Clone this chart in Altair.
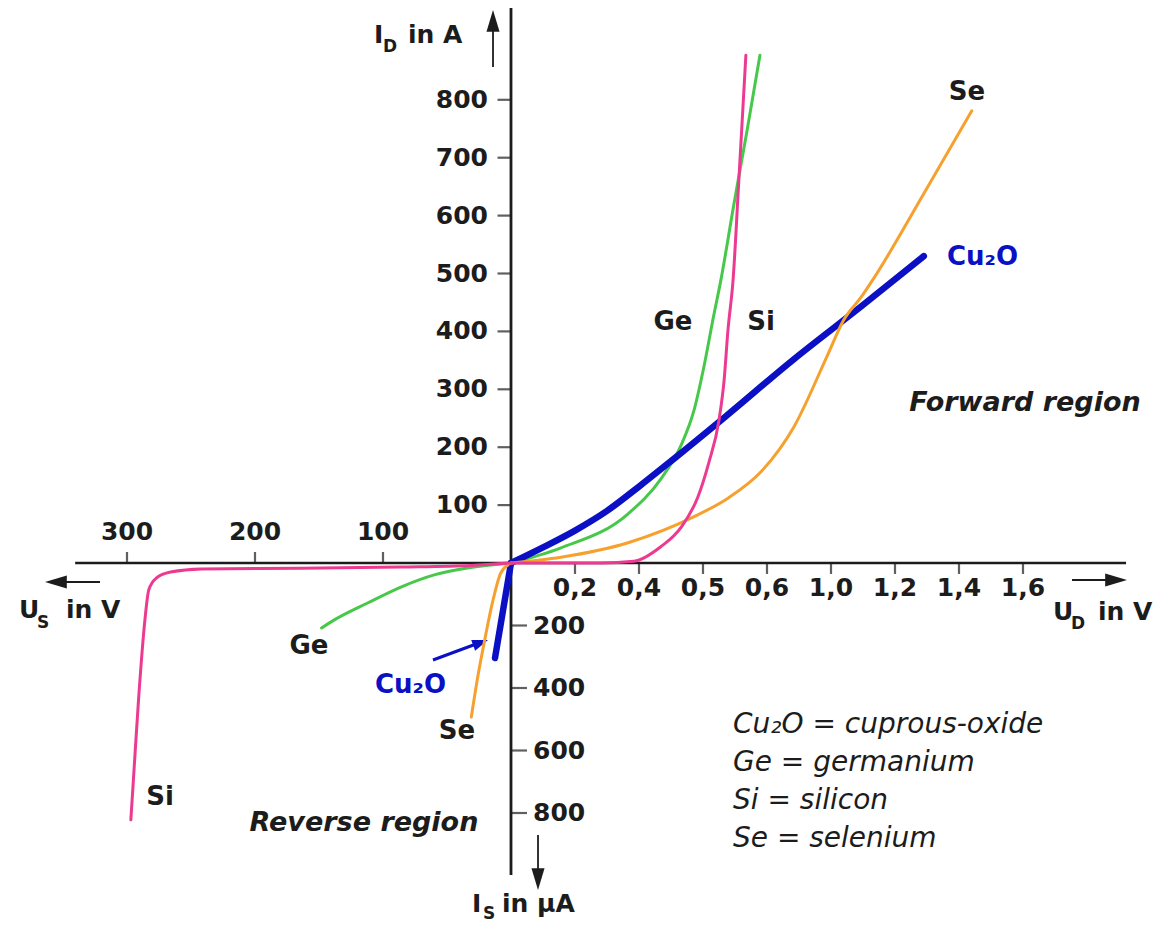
import altair as alt
import pandas as pd

# ---------------- values ----------------
# Forward region: x in scale divisions (division k carries label FWD_LABELS[k-1]), I_D in A
FWD_TICKS = [1, 2, 3, 4, 5, 6, 7, 8]
FWD_LABELS = ["0,2", "0,4", "0,5", "0,6", "1,0", "1,2", "1,4", "1,6"]
ID_TICKS = [100, 200, 300, 400, 500, 600, 700, 800]
# Reverse region: U_S in V, I_S in µA
US_TICKS = [100, 200, 300]
IS_TICKS = [200, 400, 600, 800]

cu2o_fwd_div = [0, 0.5, 1.0, 1.5, 2.0, 2.5, 3.33, 4.42, 5.47, 6.45]
cu2o_fwd_a = [0, 27, 56, 90, 132, 176, 251, 352, 443, 530]
ge_fwd_div = [0, 0.78, 1.83, 2.34, 2.66, 2.86, 3.02, 3.16, 3.28, 3.48, 3.69, 3.89]
ge_fwd_a = [0, 26, 85, 145, 204, 264, 342, 423, 489, 618, 748, 877]
si_fwd_div = [0, 1.41, 1.92, 2.34, 2.66, 2.92, 3.09, 3.25, 3.33, 3.39, 3.47, 3.56, 3.67]
si_fwd_a = [0, 0, 3, 28, 62, 114, 173, 247, 316, 402, 489, 661, 877]
se_fwd_div = [0, 0.78, 1.83, 2.86, 3.39, 3.91, 4.42, 4.95, 5.20, 5.47, 5.67, 6.44, 7.20]
se_fwd_a = [0, 10, 35, 80, 112, 158, 235, 360, 420, 459, 492, 636, 781]

si_rev_v = [0, -31, -86, -164, -242, -266, -277, -283, -286, -291, -295, -297]
si_rev_ua = [0, -8, -13, -17, -19, -29, -48, -86, -182, -438, -694, -822]
ge_rev_v = [0, -8, -34, -60, -86, -112, -138, -148]
ge_rev_ua = [0, -3, -16, -38, -77, -128, -182, -208]
se_rev_v = [0, -8, -14, -21, -26, -31]
se_rev_ua = [0, -32, -118, -256, -365, -493]
cu2o_rev_v = [0, -12.5]
cu2o_rev_ua = [0, -304]

# display units: forward x = division, forward y = A/100; reverse x = V/50, reverse y = µA/REV_Y
REV_X = 50.0
FWD_Y = 100.0
REV_Y = 200 * 57.9 / 62.5

COL = {"Si": "#ec3a90", "Ge": "#47c84b", "Se": "#f6a12e", "Cu2O": "#0c10c4"}
INK = "#1c1c1c"
FONT = "DejaVu Sans"

xs = alt.Scale(domain=[-503 / 64, (1147 - 503) / 64], nice=False, zero=False)
ys = alt.Scale(domain=[-363 / 57.9, 555 / 57.9], nice=False, zero=False)
X = alt.X("x:Q", scale=xs, axis=None)
Y = alt.Y("y:Q", scale=ys, axis=None)


def fwd(div, amp):
    return pd.DataFrame({"x": div, "y": [a / FWD_Y for a in amp]})


def rev(volt, ua):
    return pd.DataFrame({"x": [v / REV_X for v in volt], "y": [u / REV_Y for u in ua]})


def curve(df, name, width):
    return alt.Chart(df).mark_line(color=COL[name], strokeWidth=width,
                                   interpolate="monotone", strokeCap="round").encode(x=X, y=Y)


# ---------------- axes ----------------
axis_h = pd.DataFrame({"x": [-6.81], "x2": [9.61], "y": [0.0]})
axis_v = pd.DataFrame({"x": [0.0], "y": [9.61], "y2": [-5.39]})
axes = [
    alt.Chart(axis_h).mark_rule(color=INK, strokeWidth=2.6).encode(x=X, x2="x2:Q", y=Y),
    alt.Chart(axis_v).mark_rule(color=INK, strokeWidth=2.8).encode(x=X, y=Y, y2="y2:Q"),
]

fx = pd.DataFrame({"x": FWD_TICKS, "y": [0.0] * len(FWD_TICKS), "t": FWD_LABELS})
rx = pd.DataFrame({"x": [-v / REV_X for v in US_TICKS], "y": [0.0] * len(US_TICKS),
                   "t": [str(v) for v in US_TICKS]})
fy = pd.DataFrame({"x": [0.0] * len(ID_TICKS), "y": [a / FWD_Y for a in ID_TICKS],
                   "t": [str(a) for a in ID_TICKS]})
ry = pd.DataFrame({"x": [0.0] * len(IS_TICKS), "y": [-u / REV_Y for u in IS_TICKS],
                   "t": [str(u) for u in IS_TICKS]})

tick_font = dict(font=FONT, fontSize=25, fontWeight="bold", color=INK)
ticks = [
    alt.Chart(fx).mark_tick(orient="vertical", size=10, thickness=2.2, yOffset=6, color=INK).encode(x=X, y=Y),
    alt.Chart(rx).mark_tick(orient="vertical", size=11, thickness=2.2, yOffset=-5.5, color=INK).encode(x=X, y=Y),
    alt.Chart(fy).mark_tick(orient="horizontal", size=13, thickness=2.2, xOffset=-7, color=INK).encode(x=X, y=Y),
    alt.Chart(ry).mark_tick(orient="horizontal", size=16, thickness=2.2, xOffset=8, color=INK).encode(x=X, y=Y),
    alt.Chart(fx).mark_text(align="center", baseline="middle", dy=25, **tick_font).encode(x=X, y=Y, text="t:N"),
    alt.Chart(rx).mark_text(align="center", baseline="middle", dy=-31, **tick_font).encode(x=X, y=Y, text="t:N"),
    alt.Chart(fy).mark_text(align="right", baseline="middle", dx=-23, **tick_font).encode(x=X, y=Y, text="t:N"),
    alt.Chart(ry).mark_text(align="left", baseline="middle", dx=22, **tick_font).encode(x=X, y=Y, text="t:N"),
]

# axis titles (main part and subscript)
title_main = pd.DataFrame({
    "x": [-2.141, -1.609, -7.6875, -6.953, 8.469, 9.172, -0.609, -0.141],
    "y": [8.981, 8.981, -0.950, -0.950, -0.984, -0.984, -6.028, -6.028],
    "t": ["I", "in A", "U", "in V", "U", "in V", "I", "in µA"],
})
title_sub = pd.DataFrame({
    "x": [-2.0, -7.406, 8.75, -0.4375],
    "y": [8.826, -1.123, -1.140, -6.149],
    "t": ["D", "S", "D", "S"],
})
titles = [
    alt.Chart(title_main).mark_text(align="left", baseline="alphabetic", font=FONT, fontSize=25,
                                    fontWeight="bold", color=INK).encode(x=X, y=Y, text="t:N"),
    alt.Chart(title_sub).mark_text(align="left", baseline="alphabetic", font=FONT, fontSize=17,
                                   fontWeight="bold", color=INK).encode(x=X, y=Y, text="t:N"),
]

# arrows
shafts = pd.DataFrame({
    "x": [-6.422, 8.766, -0.281, 0.422],
    "x2": [-7.2, 9.55, -0.281, 0.422],
    "y": [-0.328, -0.294, 8.567, -4.698],
    "y2": [-0.328, -0.294, 9.45, -5.55],
})
heads = pd.DataFrame({"x": [-7.281, 9.625, -0.281, 0.422],
                      "y": [-0.328, -0.294, 9.551, -5.648],
                      "ang": [180, 0, 270, 90]})
note_shaft = pd.DataFrame({"x": [-1.219], "x2": [-0.45], "y": [-1.675], "y2": [-1.36]})
note_head = pd.DataFrame({"x": [-0.359], "y": [-1.330], "ang": [340]})
ARROW = "M0,0 L-1,-0.3 L-1,0.3 Z"
arrows = [
    alt.Chart(shafts).mark_rule(color=INK, strokeWidth=1.8).encode(x=X, y=Y, x2="x2:Q", y2="y2:Q"),
    alt.Chart(heads).mark_point(shape=ARROW, filled=True, size=1900, color=INK, opacity=1,
                                strokeWidth=0).encode(
        x=X, y=Y, angle=alt.Angle("ang:Q", scale=None)),
    alt.Chart(note_shaft).mark_rule(color=COL["Cu2O"], strokeWidth=3).encode(x=X, y=Y, x2="x2:Q", y2="y2:Q"),
    alt.Chart(note_head).mark_point(shape="M0,0 L-1,-0.36 L-1,0.36 Z", filled=True, size=1000,
                                    color=COL["Cu2O"], opacity=1, strokeWidth=0).encode(
        x=X, y=Y, angle=alt.Angle("ang:Q", scale=None)),
]

# curves
curves = [
    curve(fwd(ge_fwd_div, ge_fwd_a), "Ge", 3),
    curve(rev(ge_rev_v, ge_rev_ua), "Ge", 3),
    curve(fwd(cu2o_fwd_div, cu2o_fwd_a), "Cu2O", 6.5),
    curve(rev(cu2o_rev_v, cu2o_rev_ua), "Cu2O", 6.5),
    curve(fwd(se_fwd_div, se_fwd_a), "Se", 3),
    curve(rev(se_rev_v, se_rev_ua), "Se", 3),
    curve(fwd(si_fwd_div, si_fwd_a), "Si", 3),
    curve(rev(si_rev_v, si_rev_ua), "Si", 3),
]

# curve labels
lab_black = pd.DataFrame({
    "x": [7.125, 2.531, 3.906, -3.156, -0.844, -5.484],
    "y": [8.135, 4.162, 4.162, -1.434, -2.902, -4.041],
    "t": ["Se", "Ge", "Si", "Ge", "Se", "Si"],
})
lab_blue = pd.DataFrame({"x": [6.8125, -2.125], "y": [5.285, -2.107], "t": ["Cu₂O", "Cu₂O"]})
regions = pd.DataFrame({"x": [8.031, -2.297], "y": [2.763, -4.491],
                        "t": ["Forward region", "Reverse region"]})
legend = pd.DataFrame({
    "x": [3.469] * 4,
    "y": [-2.798, -3.454, -4.111, -4.767],
    "t": ["Cu₂O = cuprous-oxide", "Ge = germanium", "Si = silicon", "Se = selenium"],
})
labels = [
    alt.Chart(lab_black).mark_text(align="center", baseline="middle", font=FONT, fontSize=26,
                                   fontWeight="bold", color=INK).encode(x=X, y=Y, text="t:N"),
    alt.Chart(lab_blue).mark_text(align="left", baseline="middle", font=FONT, fontSize=26,
                                  fontWeight="bold", color=COL["Cu2O"]).encode(x=X, y=Y, text="t:N"),
    alt.Chart(regions).mark_text(align="center", baseline="middle", font=FONT, fontSize=27,
                                 fontWeight="bold", fontStyle="italic", color=INK).encode(x=X, y=Y, text="t:N"),
    alt.Chart(legend).mark_text(align="left", baseline="middle", font=FONT, fontSize=28,
                                fontStyle="italic", color=INK).encode(x=X, y=Y, text="t:N"),
]

chart = alt.layer(*axes, *ticks, *titles, *arrows, *curves, *labels).properties(
    width=1147, height=918, padding=0, autosize=alt.AutoSizeParams(type="none"),
    background="white",
).configure_view(stroke=None)

chart.save("out.html", embed_options={"renderer": "svg", "actions": False})
